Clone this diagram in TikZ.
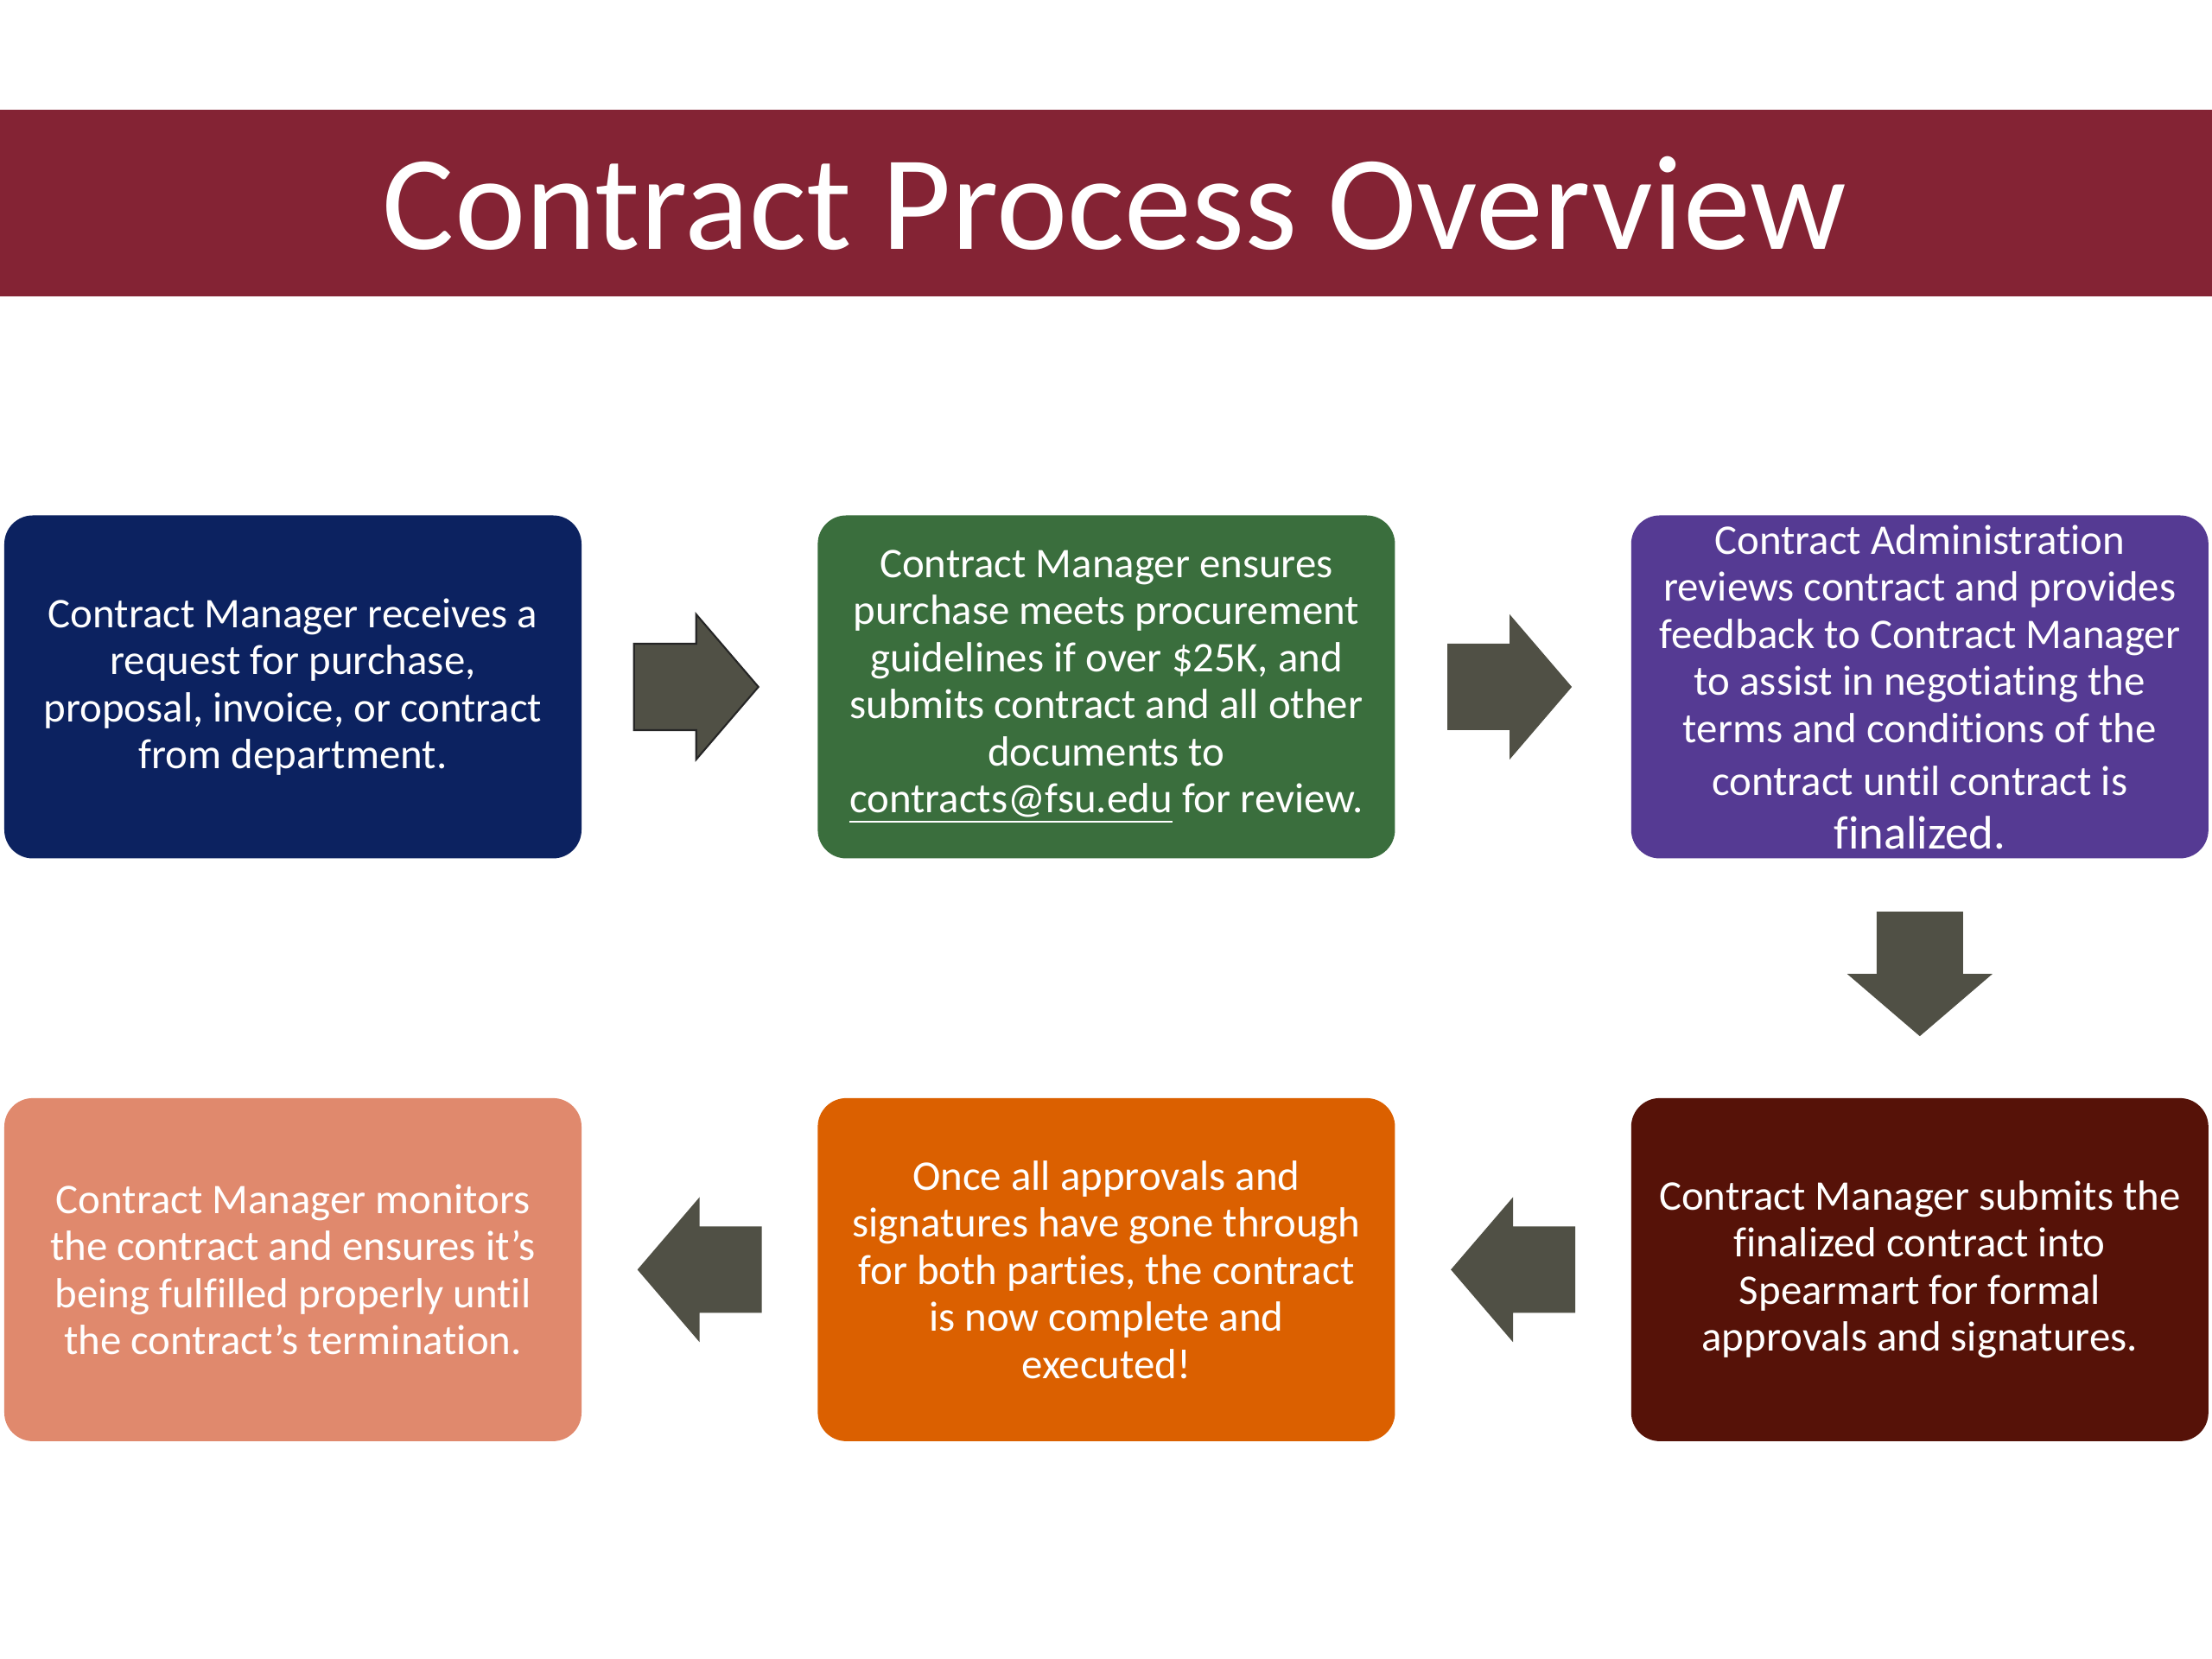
\documentclass[tikz,border=0pt]{standalone}
\usepackage{fontspec}
\setmainfont[Ligatures=NoCommon]{Carlito}
\usetikzlibrary{positioning,calc}
\definecolor{bannerred}{HTML}{842334}
\definecolor{stepnavy}{HTML}{0C2260}
\definecolor{stepgreen}{HTML}{3A6E3D}
\definecolor{steppurple}{HTML}{553A93}
\definecolor{stepmaroon}{HTML}{561208}
\definecolor{steporange}{HTML}{DB6000}
\definecolor{stepsalmon}{HTML}{E0896D}
\definecolor{arrowgray}{HTML}{505045}
\tikzset{
  stepbox/.style={rounded corners=3.3mm, minimum width=66.8mm, minimum height=39.7mm,
                  text=white, align=center, inner sep=1mm,
                  font=\fontsize{13.9}{15.5}\selectfont},
  banner/.style={fill=bannerred, minimum width=25.6cm, minimum height=2.16cm, inner sep=0pt},
  titletext/.style={text=white, inner sep=0pt, font=\fontsize{44.4}{48}\selectfont},
  blockarrow/.pic={
    \path[fill=arrowgray, pic actions] (-0.72,-0.5) -- (0,-0.5) -- (0,-0.84) -- (0.72,0)
      -- (0,0.84) -- (0,0.5) -- (-0.72,0.5) -- cycle;
  },
}
\begin{document}
\begin{tikzpicture}
    \useasboundingbox (0,0) rectangle (25.6,19.2);
    \node[banner] (banner) at (12.8,16.85) {};
    \node[titletext] (title) at (12.9,16.85) {Contract Process Overview};
    % top row
    \node[stepbox, fill=stepnavy] (request) at (3.39,11.25)
      {Contract Manager receives a\\ request for purchase,\\ proposal, invoice, or contract\\ from department.};
    \node[stepbox, fill=stepgreen, right=2.72cm of request] (submit)
      {Contract Manager ensures\\ purchase meets procurement\\ guidelines if over \$25K, and\\ submits contract and all other\\ documents to\\ \underline{contracts@fsu.edu} for review.};
    \node[stepbox, fill=steppurple, right=2.72cm of submit] (negotiate)
      {Contract Administration\\ reviews contract and provides\\ feedback to Contract Manager\\ to assist in negotiating the\\ terms and conditions of the\\[2pt] contract until contract is\\[2pt] {\fontsize{15.5}{16}\selectfont finalized.}};
    % bottom row
    \node[stepbox, fill=stepmaroon, below=2.76cm of negotiate] (spearmart)
      {Contract Manager submits the\\ finalized contract into\\ Spearmart for formal\\ approvals and signatures.};
    \node[stepbox, fill=steporange, left=2.72cm of spearmart] (executed)
      {Once all approvals and\\ signatures have gone through\\ for both parties, the contract\\ is now complete and\\ executed!};
    \node[stepbox, fill=stepsalmon, left=2.72cm of executed] (monitor)
      {Contract Manager monitors\\ the contract and ensures it’s\\ being fulfilled properly until\\ the contract’s termination.};
    % arrows between steps
    \coordinate (a12) at ($(request.east)!0.5!(submit.west)$);
    \coordinate (a23) at ($(submit.east)!0.5!(negotiate.west)$);
    \coordinate (a34) at ($(negotiate.south)!0.5!(spearmart.north)$);
    \coordinate (a45) at ($(spearmart.west)!0.5!(executed.east)$);
    \coordinate (a56) at ($(executed.west)!0.5!(monitor.east)$);
    \pic[draw=black!85, line width=0.6pt] at ([xshift=-0.04cm]a12) {blockarrow};
    \pic at ([xshift=-0.04cm]a23) {blockarrow};
    \pic[rotate=-90] at ([yshift=0.05cm]a34) {blockarrow};
    \pic[rotate=180] at (a45) {blockarrow};
    \pic[rotate=180] at (a56) {blockarrow};
\end{tikzpicture}
\end{document}
